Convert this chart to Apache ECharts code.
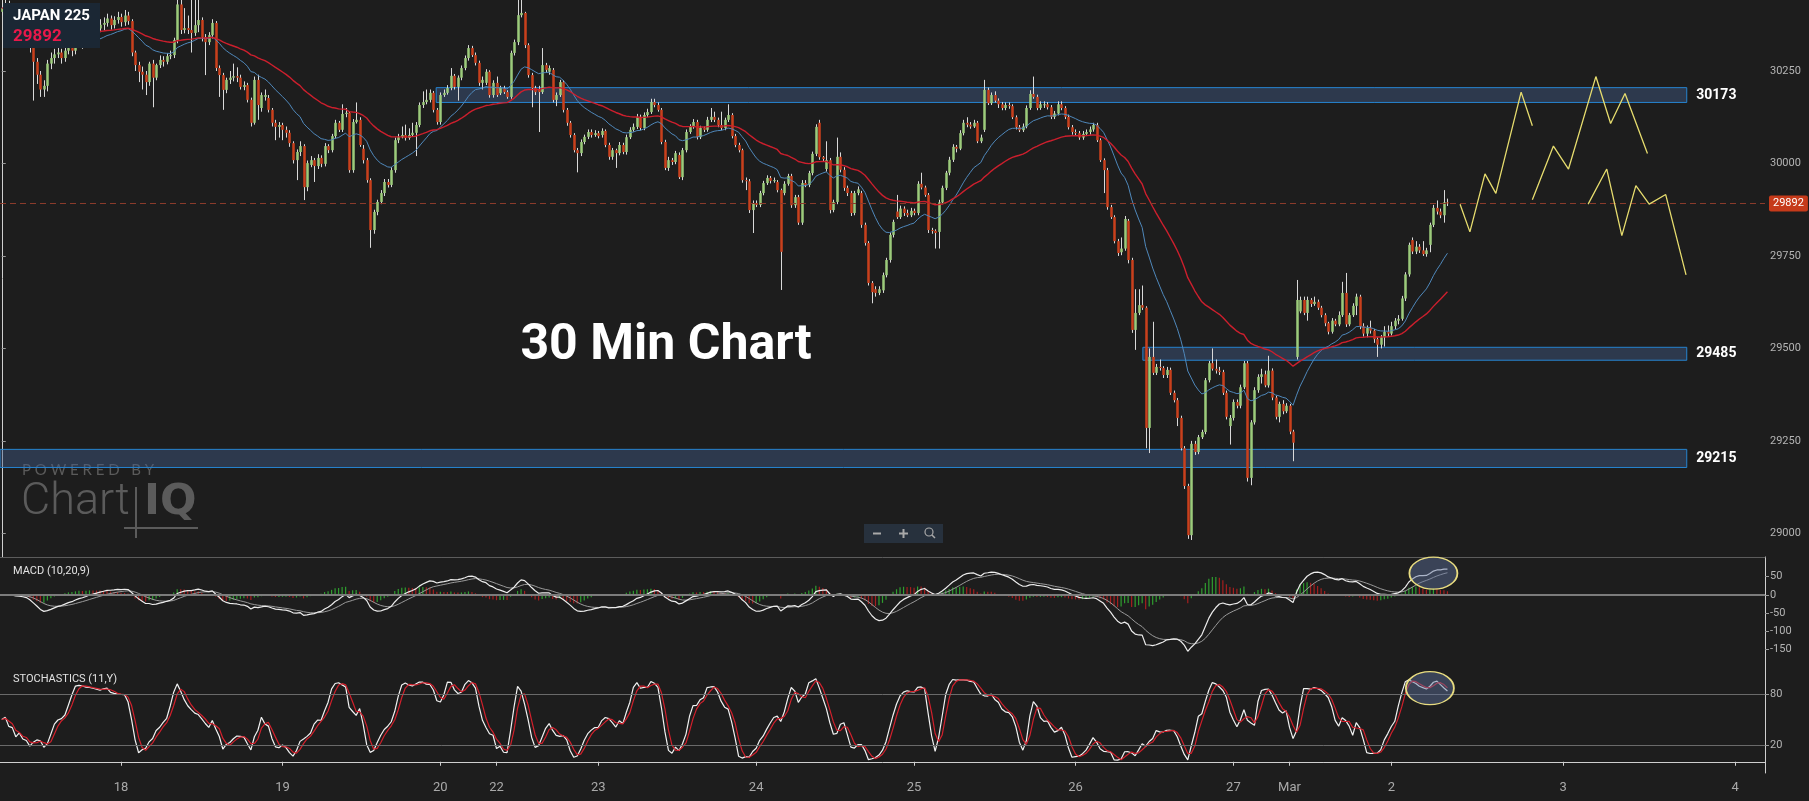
<!DOCTYPE html>
<html><head><meta charset="utf-8">
<script src="https://cdn.jsdelivr.net/npm/echarts@6/dist/echarts.min.js"></script>
<style>html,body{margin:0;padding:0;background:#1d1d1d;}#c{width:1809px;height:801px;}</style>
</head><body><div id="c"></div><script>
// ---- 30-minute candles ----
const opens=[30410,30420,30425,30405,30415,30395,30402,30388,30375,30320,
30275,30240,30200,30210,30270,30285,30295,30300,30285,30305,
30312,30305,30330,30335,30325,30345,30360,30355,30365,30375,
30380,30392,30374,30388,30396,30382,30400,30385,30300,30266,
30248,30240,30220,30270,30232,30266,30280,30275,30290,30293,
30334,30430,30361,30366,30361,30353,30374,30388,30342,30328,
30347,30380,30258,30239,30199,30226,30232,30236,30232,30207,
30212,30172,30110,30226,30150,30180,30177,30145,30110,30099,
30104,30091,30083,30055,30009,30031,30047,29936,29996,30009,
29993,30015,29999,30047,30036,30074,30110,30091,30134,30137,
29982,30112,30118,30040,30009,29955,29820,29869,29896,29920,
29950,29942,29982,30063,30071,30077,30069,30077,30083,30104,
30158,30166,30172,30191,30145,30112,30185,30191,30204,30237,
30207,30232,30258,30285,30312,30293,30272,30218,30218,30248,
30185,30218,30190,30204,30193,30180,30299,30328,30401,30407,
30320,30239,30204,30199,30193,30266,30248,30253,30172,30185,
30220,30145,30110,30077,30036,30028,30058,30072,30085,30077,
30082,30077,30088,30050,30018,30036,30028,30050,30031,30071,
30091,30099,30126,30096,30131,30139,30166,30158,30145,30058,
29988,30009,30004,30023,29963,30036,30085,30099,30112,30071,
30096,30091,30118,30126,30118,30104,30096,30118,30131,30074,
30050,30036,29955,29952,29874,29893,29888,29920,29947,29961,
29953,29950,29928,29920,29945,29966,29887,29909,29840,29947,
29942,29974,30026,30110,30017,29985,30009,29874,29896,30018,
29983,29934,29920,29866,29920,29920,29834,29785,29677,29660,
29650,29657,29698,29739,29807,29870,29855,29878,29866,29860,
29872,29866,29945,29935,29915,29820,29818,29815,29895,29934,
29975,30010,30045,30040,30082,30110,30105,30100,30110,30060,
30091,30199,30163,30185,30170,30160,30150,30158,30155,30125,
30098,30090,30100,30150,30188,30180,30150,30160,30160,30152,
30126,30135,30160,30150,30126,30098,30085,30082,30070,30080,
30085,30092,30104,30063,30009,29982,29882,29855,29790,29760,
29770,29845,29739,29550,29596,29617,29610,29285,29477,29434,
29450,29447,29428,29442,29380,29360,29312,29230,29128,28995,
29242,29220,29260,29274,29414,29460,29445,29440,29436,29380,
29290,29312,29355,29345,29395,29460,29150,29300,29387,29423,
29430,29400,29440,29367,29315,29350,29330,29345,29275,29477,
29600,29631,29596,29631,29620,29626,29610,29590,29568,29545,
29575,29565,29590,29650,29565,29590,29615,29640,29560,29540,
29555,29548,29525,29510,29530,29545,29540,29560,29575,29580,
29635,29700,29793,29762,29775,29765,29755,29780,29834,29880,
29870,29860,29895];
const closes=[30420,30425,30405,30415,30395,30402,30388,30375,30320,30275,
30240,30200,30210,30270,30285,30295,30300,30285,30305,30312,
30305,30330,30335,30325,30345,30360,30355,30365,30375,30380,
30392,30374,30388,30396,30382,30400,30385,30300,30266,30248,
30240,30220,30270,30232,30266,30280,30275,30290,30293,30334,
30430,30361,30366,30361,30353,30374,30388,30342,30328,30347,
30380,30258,30239,30199,30226,30232,30236,30232,30207,30212,
30172,30110,30226,30158,30185,30185,30145,30110,30099,30104,
30091,30083,30055,30009,30031,30047,29936,30001,30009,29993,
30015,29999,30047,30036,30074,30110,30091,30134,30137,29982,
30112,30118,30050,30009,29955,29820,29869,29896,29920,29950,
29942,29982,30063,30071,30077,30069,30077,30083,30104,30158,
30166,30172,30191,30145,30112,30185,30191,30204,30237,30207,
30232,30258,30285,30312,30293,30272,30218,30226,30248,30185,
30218,30185,30204,30193,30180,30299,30328,30401,30407,30320,
30239,30204,30193,30193,30266,30253,30258,30172,30185,30220,
30145,30110,30077,30036,30028,30058,30072,30085,30077,30082,
30074,30088,30050,30018,30036,30028,30050,30031,30071,30091,
30099,30126,30096,30131,30139,30166,30158,30145,30058,29988,
30009,30004,30028,29963,30036,30085,30099,30112,30071,30096,
30091,30118,30126,30118,30104,30096,30118,30131,30074,30050,
30036,29955,29952,29874,29893,29888,29920,29947,29961,29953,
29955,29928,29761,29945,29966,29887,29909,29840,29947,29942,
29974,30026,30099,30017,30012,30009,29874,29896,30018,29983,
29934,29920,29866,29920,29930,29834,29785,29677,29652,29650,
29660,29698,29739,29807,29842,29855,29878,29866,29860,29872,
29866,29945,29935,29915,29820,29818,29812,29895,29934,29975,
30010,30045,30040,30082,30110,30105,30100,30110,30060,30070,
30199,30163,30185,30170,30160,30150,30158,30155,30125,30098,
30090,30100,30150,30188,30180,30150,30160,30160,30152,30126,
30135,30160,30150,30126,30098,30085,30082,30070,30080,30085,
30092,30104,30063,30009,29982,29882,29855,29790,29758,29770,
29850,29739,29550,29596,29617,29610,29285,29477,29434,29450,
29447,29428,29442,29380,29360,29312,29230,29128,28995,29242,
29220,29260,29274,29414,29460,29445,29440,29436,29380,29315,
29312,29355,29345,29395,29460,29150,29300,29387,29423,29430,
29400,29440,29367,29315,29350,29330,29345,29275,29245,29631,
29631,29596,29631,29620,29626,29610,29590,29568,29545,29575,
29565,29590,29650,29565,29590,29615,29640,29560,29540,29555,
29548,29525,29510,29530,29545,29540,29560,29575,29580,29635,
29700,29780,29762,29775,29765,29755,29765,29834,29880,29870,
29860,29895,29892];
const highs=[30440,30445,30440,30430,30425,30420,30415,30400,30385,30330,
30285,30250,30225,30280,30300,30310,30320,30310,30320,30325,
30325,30340,30350,30345,30355,30370,30375,30380,30390,30395,
30405,30400,30398,30410,30405,30415,30410,30390,30305,30275,
30262,30250,30275,30280,30270,30292,30290,30298,30305,30340,
30470,30445,30420,30400,30470,30470,30450,30395,30350,30355,
30390,30385,30265,30245,30232,30250,30270,30260,30240,30222,
30218,30178,30235,30240,30192,30200,30185,30150,30118,30112,
30110,30100,30090,30060,30038,30060,30052,30008,30020,30015,
30025,30022,30055,30052,30080,30118,30115,30160,30150,30140,
30120,30165,30125,30050,30015,29960,29875,29902,29928,29958,
29958,29990,30070,30080,30100,30105,30095,30110,30112,30165,
30195,30200,30200,30196,30150,30192,30200,30212,30258,30242,
30238,30265,30292,30320,30318,30300,30278,30235,30255,30252,
30225,30235,30210,30210,30198,30305,30335,30470,30470,30410,
30325,30245,30210,30210,30312,30272,30265,30258,30192,30226,
30225,30150,30115,30082,30042,30065,30078,30092,30092,30090,
30088,30095,30092,30056,30042,30040,30058,30056,30078,30098,
30108,30134,30132,30138,30148,30175,30175,30165,30150,30064,
30018,30015,30034,30030,30042,30092,30106,30120,30118,30102,
30100,30126,30150,30140,30124,30140,30124,30160,30136,30080,
30056,30040,29962,29958,29900,29900,29926,29953,29968,29966,
29962,29955,29932,29952,29972,29972,29915,29915,29955,29955,
29980,30032,30106,30118,30020,30060,30015,29902,30070,30030,
29990,29940,29926,29926,29938,29926,29840,29790,29682,29668,
29668,29705,29745,29813,29848,29915,29886,29884,29875,29880,
29878,29952,29975,29940,29920,29826,29822,29902,29940,29980,
30018,30052,30050,30090,30118,30125,30112,30118,30115,30078,
30226,30205,30192,30195,30176,30166,30165,30165,30160,30130,
30104,30108,30157,30198,30235,30186,30168,30168,30166,30158,
30142,30168,30168,30155,30132,30104,30092,30088,30088,30092,
30100,30110,30110,30068,30014,29988,29888,29860,29796,29800,
29858,29850,29745,29660,29660,29670,29614,29500,29572,29458,
29470,29452,29450,29448,29386,29366,29318,29236,29134,29250,
29250,29266,29280,29420,29466,29500,29470,29450,29442,29386,
29320,29362,29362,29402,29466,29466,29306,29395,29430,29445,
29440,29480,29446,29372,29356,29360,29352,29350,29280,29685,
29640,29640,29640,29636,29640,29632,29615,29595,29572,29582,
29580,29600,29680,29704,29596,29622,29648,29645,29568,29562,
29575,29552,29530,29536,29560,29562,29572,29582,29590,29642,
29706,29786,29800,29790,29782,29790,29772,29840,29888,29900,
29878,29928,29905];
const lows=[30400,30405,30395,30390,30380,30385,30370,30360,30300,30170,
30215,30180,30180,30195,30255,30270,30285,30270,30275,30295,
30290,30295,30320,30310,30315,30335,30340,30345,30355,30360,
30370,30362,30365,30378,30370,30372,30375,30290,30250,30220,
30200,30185,30210,30152,30225,30258,30262,30268,30282,30285,
30325,30350,30352,30350,30300,30345,30355,30330,30239,30320,
30338,30250,30180,30145,30190,30215,30222,30220,30200,30198,
30165,30100,30105,30118,30140,30170,30138,30100,30063,30070,
30063,30070,30045,30000,29955,30020,29901,29925,29990,29950,
29985,29990,29992,30028,30030,30068,30085,30085,30125,29975,
29975,30108,30045,30000,29948,29772,29810,29860,29890,29912,
29935,29936,29975,30055,30068,30062,30064,30072,30020,30098,
30150,30160,30165,30138,30105,30105,30180,30186,30198,30200,
30170,30225,30252,30278,30288,30265,30210,30200,30212,30178,
30178,30180,30185,30188,30175,30175,30292,30320,30395,30312,
30232,30152,30185,30085,30188,30245,30240,30165,30155,30180,
30138,30102,30070,30030,29976,30020,30052,30066,30070,30072,
30068,30070,30044,30010,30010,29988,30022,30025,30024,30066,
30086,30093,30090,30090,30126,30134,30152,30140,30052,29982,
29980,29996,29998,29958,29955,30030,30080,30094,30065,30066,
30085,30086,30112,30112,30098,30090,30090,30112,30068,30044,
30030,29948,29928,29866,29812,29882,29882,29914,29942,29946,
29948,29922,29658,29914,29940,29880,29880,29834,29834,29936,
29936,29968,30020,30010,30004,29978,29865,29868,29890,29976,
29926,29912,29858,29860,29914,29826,29778,29670,29622,29640,
29644,29650,29692,29732,29800,29850,29850,29858,29855,29855,
29860,29860,29930,29910,29812,29810,29770,29770,29890,29928,
29968,30004,30030,30036,30076,30098,30094,30096,30055,30055,
30085,30158,30158,30165,30150,30144,30144,30148,30120,30092,
30085,30085,30095,30145,30175,30144,30145,30150,30146,30120,
30120,30130,30144,30120,30092,30078,30075,30064,30064,30074,
30078,30086,30058,30004,29920,29875,29850,29784,29750,29752,
29764,29730,29542,29496,29590,29604,29230,29217,29428,29428,
29440,29420,29420,29374,29354,29290,29224,29120,28985,28982,
29212,29214,29255,29268,29408,29440,29432,29428,29374,29308,
29240,29305,29338,29338,29390,29140,29130,29294,29380,29405,
29395,29394,29360,29308,29300,29322,29325,29268,29195,29470,
29595,29590,29575,29612,29615,29604,29584,29560,29538,29540,
29560,29560,29585,29558,29560,29585,29590,29552,29532,29530,
29540,29515,29477,29500,29505,29532,29535,29552,29565,29575,
29628,29694,29755,29755,29758,29750,29748,29760,29828,29862,
29852,29840,29885];

// ---- axis / annotation data ----
const SLOTS = 503;                        // bar slots on the time axis (history + projection room)
const dayTickSlots = [34,80,125,141,170,215,260,306,351,367,396,445,494];
const dayTickNames = ['18','19','20','22','23','24','25','26','27','Mar','2','3','4'];
const priceTicks = [29000,29250,29500,29750,30000,30250];
const macdTicks = [-150,-100,-50,0,50];
const stochTicks = [20,80];
const zoneNames = ['30173','29485','29215'];
const zoneTops = [30205,29503,29227];
const zoneBottoms = [30165,29468,29178];
const zoneStartBar = [123.8,325.2,-0.5];
const zoneEndBar = 480.2;
const proj1 = [[415.6,29890],[418.4,29815],[422.7,29972],[425.8,29919],[433.0,30193],[436.2,30102]];
const proj2 = [[436.2,29902],[442.2,30047],[446.5,29985],[454.3,30235],[458.5,30108],[462.6,30189],[469.0,30027]];
const proj3 = [[452.1,29890],[457.4,29985],[461.7,29805],[465.7,29940],[469.5,29890],[474.2,29916],[480.0,29699]];
const macdParams = [10,20,9];
const stochPeriod = 11;
const maFast = 20, maSlow = 50;
const symbolName = 'JAPAN 225';
const lastPrice = closes[closes.length-1];
const macdHighlight = [408, 60], stochHighlight = [407, 87];

// ---- indicators computed from the candles ----
function ema(a,n){const k=2/(n+1);const o=[];let p=a[0];for(let i=0;i<a.length;i++){p=i?a[i]*k+p*(1-k):a[0];o.push(p);}return o;}
function sma(a,n){return a.map((v,i)=>{const s=a.slice(Math.max(0,i-n+1),i+1);return s.reduce((x,y)=>x+y,0)/s.length;});}
const emaF = ema(closes,maFast), emaS = ema(closes,maSlow);
const e1 = ema(closes,macdParams[0]), e2 = ema(closes,macdParams[1]);
const macd = e1.map((v,i)=>v-e2[i]);
const signal = ema(macd,macdParams[2]);
const hist = macd.map((v,i)=>v-signal[i]);
const raw = closes.map((c,i)=>{const s=Math.max(0,i-stochPeriod+1);const hh=Math.max(...highs.slice(s,i+1));const ll=Math.min(...lows.slice(s,i+1));return hh===ll?50:(c-ll)/(hh-ll)*100;});
const kLine = sma(raw,3), dLine = sma(kLine,3);

const cats = Array.from({length:SLOTS},(_,i)=>String(i));
const tickSet = new Set(dayTickSlots);
const candleData = closes.map((c,i)=>[i,opens[i],c,lows[i],highs[i]]);
const r2 = v=>Math.round(v*100)/100;

const UP='#9ccb7b', DOWN='#c9401c', WICK='#d9d9d9';
const axisCol='#cfcfcf', lblCol='#b4b4b4';
function xCat(g,bottom){
  return {type:'category',gridIndex:g,data:cats,boundaryGap:true,
    axisLine:{show:true,lineStyle:{color:bottom?axisCol:'#5c5c5c',width:1}},
    axisTick:bottom?{show:true,alignWithLabel:true,length:4,interval:(i)=>tickSet.has(i),lineStyle:{color:axisCol}}:{show:false},
    axisLabel:bottom?{show:true,interval:(i)=>tickSet.has(i),formatter:(v,i)=>dayTickNames[dayTickSlots.indexOf(Number(v))]||'',color:'#a9a9a9',fontSize:13,fontFamily:'Roboto',margin:8}:{show:false},
    splitLine:{show:false}};
}
function yAx(g,min,max,ticks){
  return {type:'value',gridIndex:g,position:'right',min:min,max:max,scale:true,
    axisLine:{show:true,lineStyle:{color:axisCol,width:1}},
    axisTick:{show:true,length:4,customValues:ticks,lineStyle:{color:'#9a9a9a'}},
    axisLabel:{show:true,customValues:ticks,formatter:(v)=>String(v),color:lblCol,fontSize:11,fontFamily:'Roboto',margin:5},
    splitLine:{show:false}};
}
const ellipsePath='path://M0,10 A10,10 0 1,1 20,10 A10,10 0 1,1 0,10 Z';
const WM='#5b5b5b';

const option = {
  backgroundColor:'#1d1d1d',
  animation:false,
  grid:[{left:0,right:44,top:0,height:557},{left:0,right:44,top:557,height:110},{left:0,right:44,top:667,height:106}],
  xAxis:[xCat(0,false),xCat(1,false),xCat(2,true),
    {type:'value',gridIndex:0,min:-0.5,max:SLOTS-0.5,show:false}],
  yAxis:[yAx(0,28936,30442,priceTicks),yAx(1,-200,104.7,macdTicks),yAx(2,-13.3,112.1,stochTicks)],
  series:[
    {type:'custom',name:'candles',xAxisIndex:0,yAxisIndex:0,data:candleData,clip:true,encode:{x:0,y:[1,2,3,4]},
     renderItem:function(params,api){
       const i=api.value(0),o=api.value(1),c=api.value(2),l=api.value(3),h=api.value(4);
       const pO=api.coord([i,o]),pC=api.coord([i,c]),pL=api.coord([i,l]),pH=api.coord([i,h]);
       const bw=Math.max(1.5,api.size([1,0])[0]*0.72);
       const x=Math.round(pO[0]);
       const top=Math.min(pO[1],pC[1]),ht=Math.max(1,Math.abs(pO[1]-pC[1]));
       return {type:'group',children:[
         {type:'line',shape:{x1:x+0.5,y1:pH[1],x2:x+0.5,y2:pL[1]},style:{stroke:WICK,lineWidth:1}},
         {type:'rect',shape:{x:x+0.5-bw/2,y:top,width:bw,height:ht},style:{fill:c>=o?UP:DOWN}}
       ]};
     }},
    {type:'line',name:'ma'+maFast,xAxisIndex:0,yAxisIndex:0,data:emaF.map(r2),showSymbol:false,symbol:'none',lineStyle:{color:'#4f88bb',width:1},silent:true},
    {type:'line',name:'ma'+maSlow,xAxisIndex:0,yAxisIndex:0,data:emaS.map(r2),showSymbol:false,symbol:'none',lineStyle:{color:'#cc1f2d',width:1.4},silent:true},
    {type:'line',name:'proj1',xAxisIndex:3,yAxisIndex:0,data:proj1,symbol:'none',lineStyle:{color:'#e6dc6e',width:1.3},silent:true,z:5,
     markArea:{silent:true,
       itemStyle:{color:'rgba(66,94,137,0.45)',borderColor:'#2684d0',borderWidth:1},
       label:{show:true,position:'right',distance:9,color:'#ffffff',fontWeight:'bold',fontSize:14,fontFamily:'Roboto'},
       data:zoneNames.map((n,k)=>[{name:n,xAxis:zoneStartBar[k],yAxis:zoneTops[k]},{xAxis:zoneEndBar,yAxis:zoneBottoms[k]}])},
     markLine:{silent:true,symbol:'none',
       lineStyle:{color:'#8b3b2b',type:[6,4],width:1},
       label:{show:true,position:'end',distance:4,formatter:String(lastPrice),color:'#ffffff',backgroundColor:'#c63a1a',padding:[3,4,2,4],borderRadius:2,fontSize:11,fontFamily:'Roboto'},
       data:[{yAxis:lastPrice}]}},
    {type:'line',name:'proj2',xAxisIndex:3,yAxisIndex:0,data:proj2,symbol:'none',lineStyle:{color:'#e6dc6e',width:1.3},silent:true,z:5},
    {type:'line',name:'proj3',xAxisIndex:3,yAxisIndex:0,data:proj3,symbol:'none',lineStyle:{color:'#e6dc6e',width:1.3},silent:true,z:5},
    // MACD panel
    {type:'bar',name:'hist',xAxisIndex:1,yAxisIndex:1,barWidth:1.2,silent:true,
     data:hist.map((v,i)=>({value:r2(v),itemStyle:{color:(i>0&&v<hist[i-1])?'#a51f1f':'#2f9e2f'}}))},
    {type:'line',name:'signal',xAxisIndex:1,yAxisIndex:1,data:signal.map(r2),symbol:'none',lineStyle:{color:'#9a9a9a',width:1},silent:true},
    {type:'line',name:'macd',xAxisIndex:1,yAxisIndex:1,data:macd.map(r2),symbol:'none',lineStyle:{color:'#ececec',width:1.2},silent:true,
     markLine:{silent:true,symbol:'none',label:{show:false},lineStyle:{color:'#7c7c7c',width:2,type:'solid'},data:[{yAxis:0}]},
     markPoint:{silent:true,symbol:ellipsePath,symbolSize:[48,32],label:{show:false},
       itemStyle:{color:'rgba(95,115,160,0.45)',borderColor:'#e8dc80',borderWidth:1.5},
       data:[{coord:macdHighlight}]}},
    // Stochastics panel
    {type:'line',name:'%K',xAxisIndex:2,yAxisIndex:2,data:kLine.map(r2),symbol:'none',lineStyle:{color:'#f2f2f2',width:1.2},silent:true,
     markLine:{silent:true,symbol:'none',label:{show:false},lineStyle:{color:'#6a6a6a',width:1,type:'solid'},data:stochTicks.map(v=>({yAxis:v}))}},
    {type:'line',name:'%D',xAxisIndex:2,yAxisIndex:2,data:dLine.map(r2),symbol:'none',lineStyle:{color:'#d3202c',width:1.2},silent:true,
     markPoint:{silent:true,symbol:ellipsePath,symbolSize:[48,33],label:{show:false},
       itemStyle:{color:'rgba(95,115,160,0.45)',borderColor:'#e8dc80',borderWidth:1.5},
       data:[{coord:stochHighlight}]}}
  ],
  graphic:[
    {type:'rect',z:100,zlevel:1,shape:{x:3,y:3,width:97,height:45},style:{fill:'#1b2734'}},
    {type:'text',z:101,zlevel:1,style:{x:13,y:16,text:symbolName,font:'bold 15px Roboto',fill:'#ffffff',verticalAlign:'middle',textVerticalAlign:'middle'}},
    {type:'text',z:101,zlevel:1,style:{x:13,y:37,text:String(lastPrice),font:'bold 17px Roboto',fill:'#e8194a',verticalAlign:'middle',textVerticalAlign:'middle'}},
    {type:'text',z:100,zlevel:1,style:{x:666,y:346,text:'30 Min Chart',font:'bold 50px Roboto',fill:'#ffffff',align:'center',textAlign:'center',verticalAlign:'middle',textVerticalAlign:'middle'}},
    {type:'text',z:1,silent:true,style:{x:22,y:470,text:'P O W E R E D   B Y',font:'15px Lato',fill:WM,verticalAlign:'middle',textVerticalAlign:'middle'}},
    {type:'text',z:1,silent:true,style:{x:21,y:503,text:'Chart',font:'300 45px Roboto',fill:WM,verticalAlign:'middle',textVerticalAlign:'middle'}},
    {type:'text',z:1,silent:true,style:{x:144,y:503,text:'IQ',font:'bold 43px "DejaVu Sans"',fill:WM,verticalAlign:'middle',textVerticalAlign:'middle'}},
    {type:'line',z:1,silent:true,shape:{x1:136,y1:487,x2:136,y2:538},style:{stroke:WM,lineWidth:2}},
    {type:'line',z:1,silent:true,shape:{x1:124,y1:528,x2:198,y2:528},style:{stroke:WM,lineWidth:2}},
    {type:'rect',z:100,zlevel:1,silent:true,shape:{x:864,y:524,width:79,height:19},style:{fill:'#27313d'}},
    {type:'line',z:101,zlevel:1,silent:true,shape:{x1:873,y1:533.5,x2:881,y2:533.5},style:{stroke:'#a9a9a9',lineWidth:2}},
    {type:'line',z:101,zlevel:1,silent:true,shape:{x1:899,y1:533.5,x2:908,y2:533.5},style:{stroke:'#a9a9a9',lineWidth:2}},
    {type:'line',z:101,zlevel:1,silent:true,shape:{x1:903.5,y1:529,x2:903.5,y2:538},style:{stroke:'#a9a9a9',lineWidth:2}},
    {type:'circle',z:101,zlevel:1,silent:true,shape:{cx:929,cy:532,r:4},style:{fill:'none',stroke:'#a9a9a9',lineWidth:1.2}},
    {type:'line',z:101,zlevel:1,silent:true,shape:{x1:932,y1:535,x2:935,y2:538},style:{stroke:'#a9a9a9',lineWidth:1.5}},
    {type:'text',z:100,style:{x:13,y:571,text:'MACD ('+macdParams.join(',')+')',font:'11px Roboto',fill:'#e2e2e2',verticalAlign:'middle',textVerticalAlign:'middle'}},
    {type:'text',z:100,style:{x:13,y:679,text:'STOCHASTICS ('+stochPeriod+',Y)',font:'11px Roboto',fill:'#e2e2e2',verticalAlign:'middle',textVerticalAlign:'middle'}}
  ]
};
const chart = echarts.init(document.getElementById('c'));
chart.setOption(option);
</script></body></html>
